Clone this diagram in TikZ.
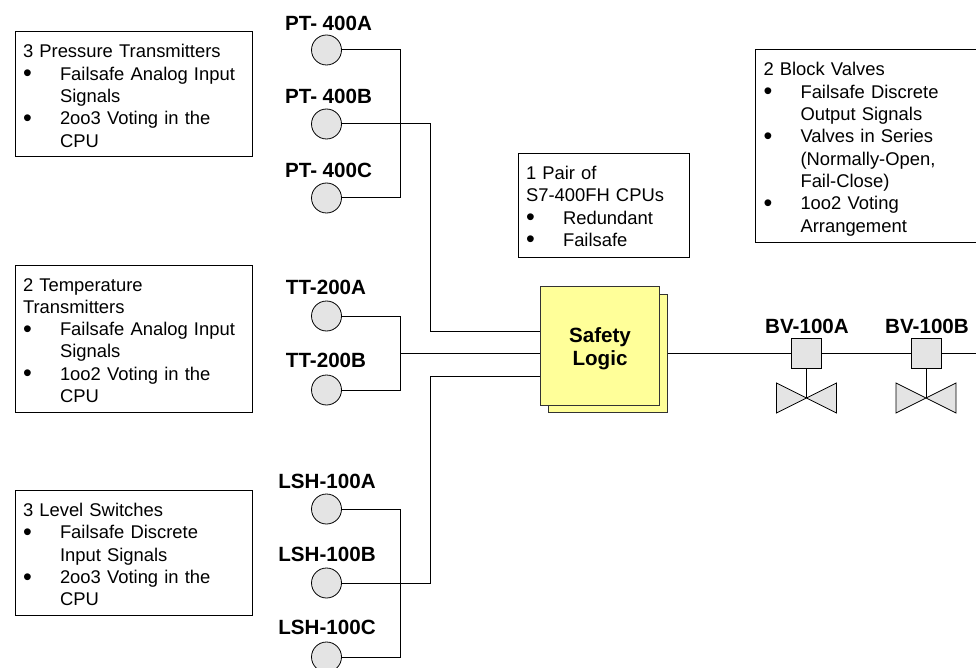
\documentclass[tikz,border=0pt]{standalone}
\usepackage{fontspec}
\setmainfont{Liberation Sans}
\definecolor{sheetyellow}{HTML}{FFFF99}
\definecolor{partgray}{HTML}{E4E4E4}
\newcommand{\bitem}[1]{\makebox[37pt][l]{\raisebox{-1.6pt}{\fontsize{25}{25}\selectfont\textbullet}}#1}
\newcommand{\bcont}[1]{\hspace*{37pt}#1}
\tikzset{
    note/.style 2 args={draw, fill=white, line width=1pt, anchor=north west, align=left, outer sep=0pt, inner xsep=8pt, inner ysep=0pt, text width=#1pt-16pt, text height=26pt, text depth=#2pt-26pt, font=\fontsize{18.4}{22.3}\selectfont},
    tag/.style={font=\fontsize{20.6}{23}\selectfont\bfseries},
    sensor/.style={draw, circle, fill=partgray, minimum size=30pt, inner sep=0pt, line width=0.8pt},
    actuator/.style={draw, fill=partgray, minimum size=30pt, inner sep=0pt, line width=0.8pt},
    logic/.style={draw=black!80, fill=sheetyellow, minimum width=119pt, minimum height=118.5pt, inner sep=0pt, line width=1pt},
    signal/.style={line width=1pt}
}
\begin{document}
\begin{tikzpicture}[x=1pt, y=-1pt]
    \useasboundingbox (0, 0) rectangle (976, 668);

    % Description boxes
    \node[note={237}{125}] (ptnote) at (15, 32) {3 Pressure Transmitters\\ \bitem{Failsafe Analog Input}\\ \bcont{Signals}\\ \bitem{2oo3 Voting in the}\\ \bcont{CPU}};
    \node[note={237}{147}] (ttnote) at (15, 265) {2 Temperature\\ Transmitters\\ \bitem{Failsafe Analog Input}\\ \bcont{Signals}\\ \bitem{1oo2 Voting in the}\\ \bcont{CPU}};
    \node[note={237}{124.5}] (lshnote) at (15, 490.5) {3 Level Switches\\ \bitem{Failsafe Discrete}\\ \bcont{Input Signals}\\ \bitem{2oo3 Voting in the}\\ \bcont{CPU}};
    \node[note={171}{104}] (cpunote) at (518, 153.5) {1 Pair of\\ S7-400FH CPUs\\ \bitem{Redundant}\\ \bitem{Failsafe}};
    \node[note={230}{192}] (bvnote) at (755.5, 50) {2 Block Valves\\ \bitem{Failsafe Discrete}\\ \bcont{Output Signals}\\ \bitem{Valves in Series}\\ \bcont{(Normally-Open,}\\ \bcont{Fail-Close)}\\ \bitem{1oo2 Voting}\\ \bcont{Arrangement}};

    % Pressure transmitters
    \node[sensor] (pta) at (326.5, 50) {};
    \node[sensor] (ptb) at (326.5, 124) {};
    \node[sensor] (ptc) at (326.5, 198) {};
    \node[tag] (ptatag) at (328.5, 23) {PT-\kern5.5pt 400A};
    \node[tag] (ptbtag) at (328.5, 96) {PT-\kern5.5pt 400B};
    \node[tag] (ptctag) at (328.5, 170) {PT-\kern5.5pt 400C};

    % Temperature transmitters
    \node[sensor] (tta) at (326.5, 316) {};
    \node[sensor] (ttb) at (326.5, 390) {};
    \node[tag] (ttatag) at (326, 287) {TT-200A};
    \node[tag] (ttbtag) at (326, 360) {TT-200B};

    % Level switches
    \node[sensor] (lsa) at (326.5, 509) {};
    \node[sensor] (lsb) at (326.5, 583) {};
    \node[sensor] (lsc) at (326.5, 657) {};
    \node[tag] (lsatag) at (327, 481) {LSH-100A};
    \node[tag] (lsbtag) at (327, 554) {LSH-100B};
    \node[tag] (lsctag) at (327, 627) {LSH-100C};

    % Safety logic, back sheet first
    \node[logic] (logicback) at (607.5, 353.5) {};
    \node[logic, align=center, tag, text height=44pt] (logicfront) at (600, 346) {Safety\\ Logic};

    % Block valves
    \node[actuator] (bva) at (806.5, 353) {};
    \node[actuator] (bvb) at (926, 353) {};
    \node[tag] (bvatag) at (807, 326) {BV-100A};
    \node[tag] (bvbtag) at (927, 326) {BV-100B};
    \coordinate (bvaseat) at (806.5, 398);
    \coordinate (bvbseat) at (926, 398);
    \coordinate (lineend) at (976, 353);
    \draw[fill=partgray, line width=0.8pt] (776.5, 383) -- (836.5, 413) -- (836.5, 383) -- (776.5, 413) -- cycle;
    \draw[fill=partgray, line width=0.8pt] (896, 383) -- (956, 413) -- (956, 383) -- (896, 413) -- cycle;

    % Bus points
    \coordinate (ptbus) at (400, 124);
    \coordinate (ttbus) at (400, 353);
    \coordinate (lsbus) at (400, 583);
    \coordinate (ptin) at (logicfront.west |- 0, 331);
    \coordinate (ttin) at (logicfront.west |- 0, 353);
    \coordinate (lsin) at (logicfront.west |- 0, 376);

    % Signal lines
    \draw[signal] (pta.east) -| (ptbus |- ptc) -- (ptc.east);
    \draw[signal] (ptb.east) -| (430, 331) -- (ptin);
    \draw[signal] (tta.east) -| (ttbus |- ttb) -- (ttb.east);
    \draw[signal] (ttbus) -- (ttin);
    \draw[signal] (lsa.east) -| (lsbus |- lsc) -- (lsc.east);
    \draw[signal] (lsb.east) -| (430, 376) -- (lsin);
    \draw[signal] (logicback.east |- lineend) -- (bva.west);
    \draw[signal] (bva.east) -- (bvb.west);
    \draw[signal] (bvb.east) -- (lineend);
    \draw[signal] (bva.south) -- (bvaseat);
    \draw[signal] (bvb.south) -- (bvbseat);
\end{tikzpicture}
\end{document}
